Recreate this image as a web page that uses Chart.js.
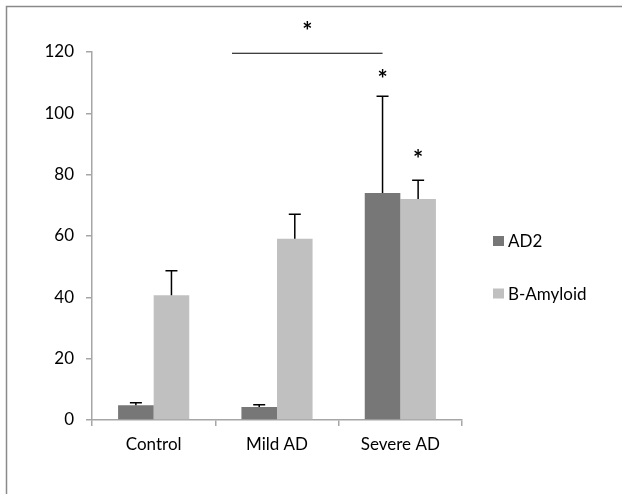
<!DOCTYPE html>
<html>
<head>
<meta charset="utf-8">
<script src="https://cdn.jsdelivr.net/npm/chart.js@4/dist/chart.umd.min.js"></script>
<style>
html,body{margin:0;padding:0;background:#fff;}
#wrap{width:622px;height:494px;position:relative;}
</style>
</head>
<body>
<div id="wrap"><canvas id="c" width="622" height="494"></canvas></div>
<script>
// ---- data ----
const categories = ["Control", "Mild AD", "Severe AD"];
const seriesNames = ["AD2", "B-Amyloid"];
const ad2Values = [4.8, 4.2, 74.0];
const ad2Errors = [0.8, 0.8, 31.6];
const amyloidValues = [40.7, 59.1, 72.1];
const amyloidErrors = [8.0, 8.0, 6.1];
const yTicks = [0, 20, 40, 60, 80, 100, 120];
// significance marks: [categoryIndex, datasetIndex, value of asterisk]
const starMarks = [[2, 0, 112.5], [2, 1, 86.4]];
// bracket between Mild AD and Severe AD: [fromCategory, toCategory, value, starValue]
const bracket = [1, 2, 119.6, 128.0];

const colors = ["#777777", "#c0c0c0"];
const FONT = "Lato, 'Open Sans', sans-serif";

const overlay = {
  id: 'overlay',
  afterDatasetsDraw(chart) {
    const ctx = chart.ctx;
    const y = chart.scales.y, x = chart.scales.x;
    const errs = [ad2Errors, amyloidErrors];
    const vals = [ad2Values, amyloidValues];
    ctx.save();
    // error bars (upper only)
    ctx.strokeStyle = '#000';
    ctx.lineWidth = 1.5;
    for (let d = 0; d < 2; d++) {
      const meta = chart.getDatasetMeta(d);
      meta.data.forEach((bar, i) => {
        const top = y.getPixelForValue(vals[d][i]);
        const end = y.getPixelForValue(vals[d][i] + errs[d][i]);
        ctx.beginPath();
        ctx.moveTo(bar.x, top);
        ctx.lineTo(bar.x, end);
        ctx.moveTo(bar.x - 6, end);
        ctx.lineTo(bar.x + 6, end);
        ctx.stroke();
      });
    }
    // stars
    ctx.fillStyle = '#000';
    ctx.font = "bold 24px " + FONT;
    ctx.textAlign = 'center';
    ctx.textBaseline = 'middle';
    starMarks.forEach(([ci, di, v]) => {
      const bar = chart.getDatasetMeta(di).data[ci];
      ctx.fillText('*', bar.x, y.getPixelForValue(v) + 5);
    });
    // bracket
    const catW = x.getPixelForValue(1) - x.getPixelForValue(0);
    const x1 = x.getPixelForValue(bracket[0]) - catW * 0.365;
    const x2 = chart.getDatasetMeta(0).data[bracket[1]].x;
    const by = y.getPixelForValue(bracket[2]);
    ctx.lineWidth = 1.2;
    ctx.beginPath();
    ctx.moveTo(x1, by);
    ctx.lineTo(x2, by);
    ctx.stroke();
    ctx.fillText('*', (x1 + x2) / 2, y.getPixelForValue(bracket[3]) + 5);
    // legend
    ctx.font = "17px " + FONT;
    ctx.textAlign = 'left';
    const lx = 493;
    const legendY = [241, 293.5];
    seriesNames.forEach((n, i) => {
      ctx.fillStyle = colors[i];
      ctx.fillRect(lx, legendY[i] - 5, 11, 10);
      ctx.fillStyle = '#000';
      ctx.fillText(n, lx + 15, legendY[i] + 1);
    });
    // outer frame
    ctx.strokeStyle = '#8a8a8a';
    ctx.lineWidth = 1.5;
    ctx.strokeRect(6.5, 6.5, 800, 800);
    ctx.restore();
  }
};

new Chart(document.getElementById('c'), {
  type: 'bar',
  data: {
    labels: categories,
    datasets: [
      { label: seriesNames[0], data: ad2Values, backgroundColor: colors[0] },
      { label: seriesNames[1], data: amyloidValues, backgroundColor: colors[1] }
    ]
  },
  options: {
    responsive: false,
    animation: false,
    devicePixelRatio: 1,
    layout: { padding: { left: 0, right: 160, top: 52, bottom: 0 } },
    datasets: { bar: { categoryPercentage: 0.577, barPercentage: 1.0 } },
    plugins: { legend: { display: false }, tooltip: { enabled: false } },
    scales: {
      x: {
        grid: { display: true, drawOnChartArea: false, offset: true, color: '#a6a6a6', tickLength: 6, lineWidth: 1.5 },
        border: { color: '#a6a6a6', width: 1.5 },
        ticks: { color: '#000', font: { family: FONT, size: 17 }, padding: 8 },
        afterFit(s) { s.height = 74; }
      },
      y: {
        min: 0, max: 120,
        afterBuildTicks(s) { s.ticks = yTicks.map(v => ({ value: v })); },
        grid: { display: true, drawOnChartArea: false, color: '#a6a6a6', tickLength: 6, lineWidth: 1.5 },
        border: { color: '#a6a6a6', width: 1.5 },
        ticks: { color: '#000', font: { family: FONT, size: 17 }, padding: 12 },
        afterFit(s) { s.width = 92; }
      }
    }
  },
  plugins: [overlay]
});
</script>
</body>
</html>
